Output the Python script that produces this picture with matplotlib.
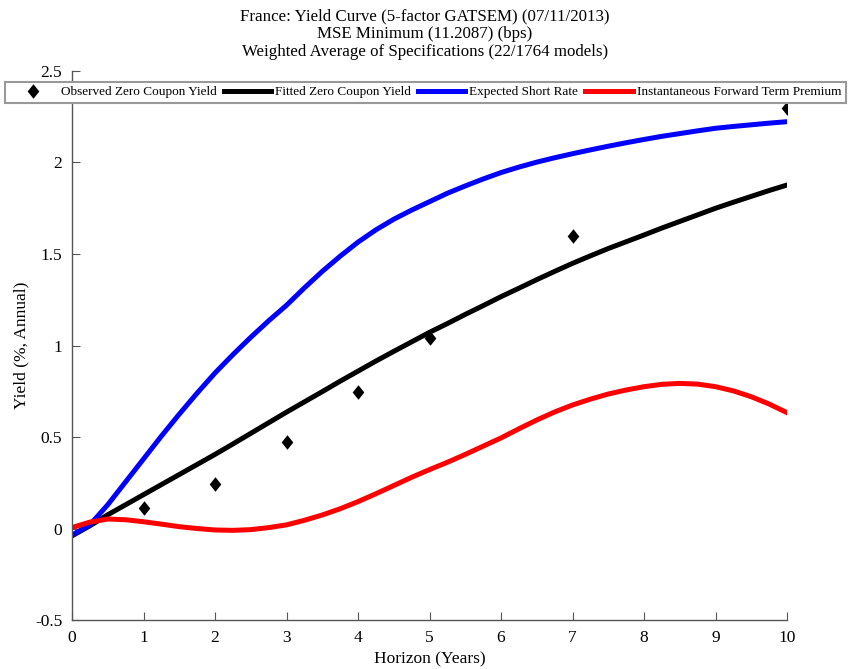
import matplotlib
matplotlib.use("Agg")
import matplotlib.pyplot as plt

plt.rcParams['font.family'] = ['Liberation Serif', 'DejaVu Serif']

# Observed zero coupon yields
obs_x = [1, 2, 3, 4, 5, 7, 10]
obs_y = [0.112, 0.243, 0.473, 0.746, 1.041, 1.598, 2.298]

# Curves (horizon in years)
horizon = [0, 0.25, 0.5, 0.75, 1, 1.25, 1.5, 1.75, 2, 2.25, 2.5, 2.75, 3, 3.25, 3.5, 3.75,
           4, 4.25, 4.5, 4.75, 5, 5.25, 5.5, 5.75, 6, 6.25, 6.5, 6.75, 7, 7.25, 7.5, 7.75,
           8, 8.25, 8.5, 8.75, 9, 9.25, 9.5, 9.75, 10]
fitted = [-0.04, 0.015, 0.075, 0.13, 0.185, 0.24, 0.295, 0.35, 0.405, 0.462, 0.52, 0.578,
          0.636, 0.692, 0.748, 0.805, 0.86, 0.915, 0.968, 1.02, 1.072, 1.12, 1.17, 1.218,
          1.267, 1.313, 1.36, 1.405, 1.449, 1.49, 1.53, 1.567, 1.604, 1.642, 1.678, 1.714,
          1.75, 1.783, 1.815, 1.847, 1.877]
short_rate = [-0.036, 0.02, 0.13, 0.255, 0.38, 0.505, 0.625, 0.74, 0.85, 0.95, 1.045, 1.135,
              1.22, 1.315, 1.405, 1.488, 1.565, 1.632, 1.69, 1.74, 1.786, 1.832, 1.872, 1.91,
              1.945, 1.975, 2.002, 2.026, 2.048, 2.069, 2.089, 2.108, 2.126, 2.143, 2.158,
              2.173, 2.187, 2.197, 2.206, 2.215, 2.223]
term_premium = [0.005, 0.035, 0.052, 0.048, 0.037, 0.024, 0.01, 0.0, -0.008, -0.01, -0.006,
                0.005, 0.02, 0.045, 0.074, 0.108, 0.147, 0.19, 0.235, 0.28, 0.322, 0.362,
                0.405, 0.45, 0.495, 0.545, 0.593, 0.637, 0.675, 0.707, 0.735, 0.757, 0.775,
                0.788, 0.793, 0.789, 0.775, 0.752, 0.72, 0.68, 0.633]

labels = ['Observed Zero Coupon Yield', 'Fitted Zero Coupon Yield',
          'Expected Short Rate', 'Instantaneous Forward Term Premium']
title = ('France: Yield Curve (5-factor GATSEM) (07/11/2013)\n'
         'MSE Minimum (11.2087) (bps)\n'
         'Weighted Average of Specifications (22/1764 models)')

diamond = [(0, -1), (0.8, 0), (0, 1), (-0.8, 0), (0, -1)]

fig = plt.figure(figsize=(8.5, 6.69), dpi=100)
ax = fig.add_axes([0.0847, 0.0732, 0.926 - 0.0847, 0.8939 - 0.0732])

ax.plot(obs_x, obs_y, linestyle='none', marker=diamond, markersize=10.5, color='black',
        markeredgewidth=0, label=labels[0], zorder=5)
ax.plot(horizon, fitted, color='black', lw=3.6, label=labels[1])
ax.plot(horizon, short_rate, color='#0000ff', lw=3.6, label=labels[2])
ax.plot(horizon, term_premium, color='#ff0000', lw=3.6, label=labels[3])

ax.set_xlim(0, 10)
ax.set_ylim(-0.5, 2.5)
ax.set_xticks(range(0, 11))
ax.set_yticks([-0.5, 0, 0.5, 1, 1.5, 2, 2.5])
ax.set_yticklabels(['-0.5', '0', '0.5', '1', '1.5', '2', '2.5'])

for s in ['top', 'right']:
    ax.spines[s].set_visible(False)
for s in ['left', 'bottom']:
    ax.spines[s].set_color('#555555')
    ax.spines[s].set_linewidth(1.0)
ax.tick_params(direction='in', length=6, color='#555555', labelsize=12.5)
ax.tick_params(axis='x', pad=7)
ax.tick_params(axis='y', pad=7)

ax.set_xlabel('Horizon (Years)', fontsize=12.5, labelpad=4)
ax.set_ylabel('Yield (%, Annual)', fontsize=12.5, labelpad=4)
fig.text(0.5, 0.988, title, ha='center', va='top', fontsize=12.2, linespacing=1.15)

leg = fig.legend(loc='lower left', bbox_to_anchor=(0.006, 0.846, 0.989, 0.034),
                 mode='expand', ncol=4, fontsize=9.5, frameon=True, fancybox=False,
                 edgecolor='#999999', framealpha=1, handlelength=3.6, handletextpad=0.3,
                 borderaxespad=0, borderpad=0.35, columnspacing=1.0)
leg.get_frame().set_linewidth(1.5)

fig.savefig('out.png', dpi=100)
